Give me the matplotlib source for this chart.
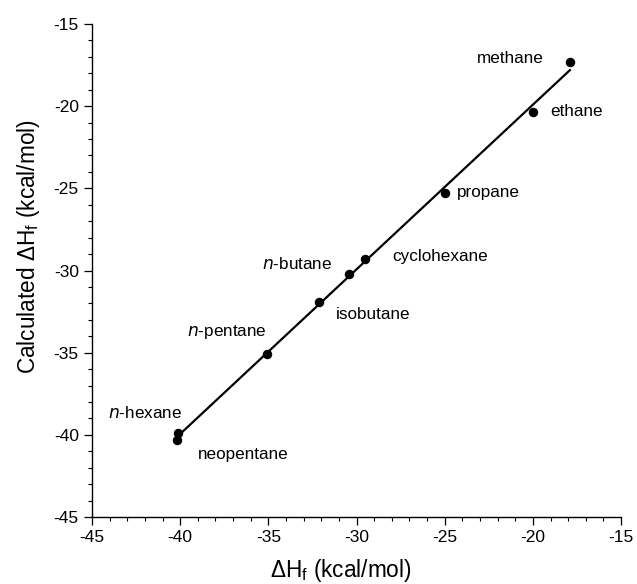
import matplotlib
matplotlib.use("Agg")
import matplotlib.pyplot as plt
import numpy as np
from matplotlib.ticker import MultipleLocator

plt.rcParams['font.family'] = ['Liberation Sans', 'DejaVu Sans']
plt.rcParams['mathtext.default'] = 'regular'
plt.rcParams['axes.unicode_minus'] = False

names = ["methane", "ethane", "propane", "cyclohexane", "n-butane",
         "isobutane", "n-pentane", "n-hexane", "neopentane"]
exp_dhf = [-17.9, -20.0, -25.0, -29.5, -30.4, -32.1, -35.1, -40.1, -40.2]
calc_dhf = [-17.3, -20.35, -25.3, -29.3, -30.2, -31.9, -35.1, -39.9, -40.3]

# label anchor positions (data coords) and alignment
label_x = [-19.4, -19.0, -24.3, -27.95, -31.35, -31.15, -35.1, -39.9, -39.0]
label_y = [-17.1, -20.35, -25.27, -29.16, -29.6, -32.66, -33.72, -38.68, -41.2]
label_ha = ["right", "left", "left", "left", "right", "left", "right", "right", "left"]
label_txt = ["methane", "ethane", "propane", "cyclohexane", "$\\it{n}$-butane",
             "isobutane", "$\\it{n}$-pentane", "$\\it{n}$-hexane", "neopentane"]

fig = plt.figure(figsize=(6.37, 5.84), dpi=100)
ax = fig.add_axes([0.1444, 0.1147, 0.975 - 0.1444, 0.9589 - 0.1147])

x = np.array(exp_dhf)
y = np.array(calc_dhf)
coef = np.polyfit(x, y, 1)
xl = np.array([x.min(), x.max()])
ax.plot(xl, np.polyval(coef, xl), color='black', lw=1.6, zorder=2)
ax.plot(x, y, 'o', color='black', ms=5.8, zorder=3)

for lx, ly, t, ha in zip(label_x, label_y, label_txt, label_ha):
    ax.text(lx, ly, t, ha=ha, va='center', fontsize=12.3)

ax.set_xlim(-45, -15)
ax.set_ylim(-45, -15)
ax.xaxis.set_major_locator(MultipleLocator(5))
ax.yaxis.set_major_locator(MultipleLocator(5))
ax.xaxis.set_minor_locator(MultipleLocator(1))
ax.yaxis.set_minor_locator(MultipleLocator(1))
ax.spines['top'].set_visible(False)
ax.spines['right'].set_visible(False)
for s in ['left', 'bottom']:
    ax.spines[s].set_linewidth(1.0)
ax.tick_params(which='major', direction='out', length=5.5, width=0.9, labelsize=12.5)
ax.tick_params(axis='x', which='major', pad=3.5)
ax.tick_params(axis='y', which='major', pad=4)
ax.tick_params(which='minor', direction='out', length=2.8, width=0.8)

fig.text(341 / 637, 1 - 570 / 584, "ΔH$_f$ (kcal/mol)", fontsize=16.3,
         ha='center', va='center')
fig.text(29 / 637, 1 - 119 / 584, "Calculated ΔH$_f$ (kcal/mol)", fontsize=16.3,
         rotation=90, ha='center', va='top')

fig.savefig("out.png", dpi=100)
